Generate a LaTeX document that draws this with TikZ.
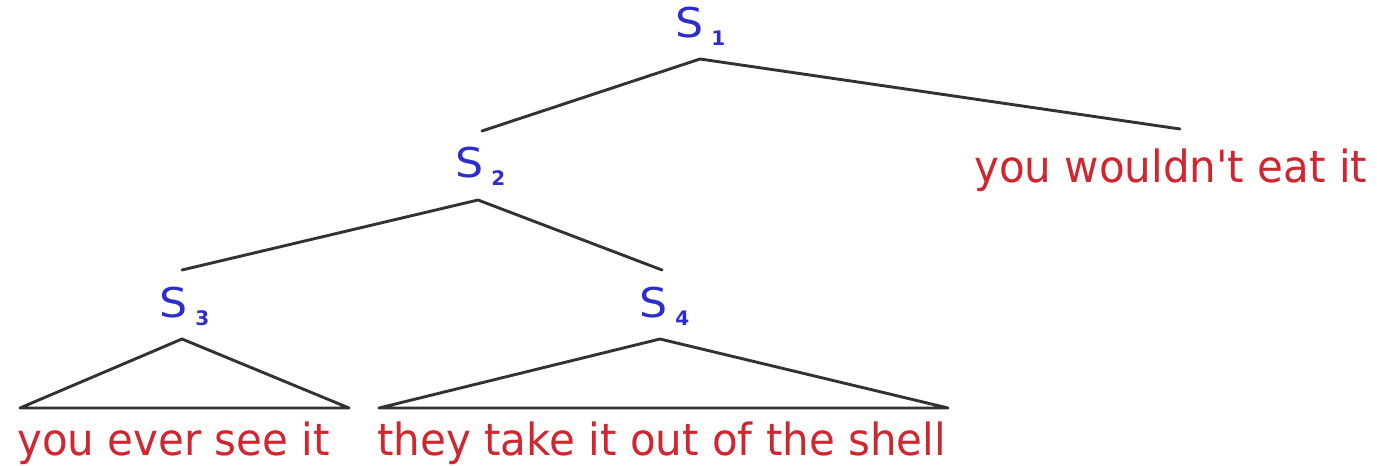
\documentclass[tikz,border=0pt]{standalone}
\usepackage{fontspec}
\setmainfont{DejaVu Sans}
\definecolor{catblue}{RGB}{45,45,205}
\definecolor{leafred}{RGB}{208,38,48}
\definecolor{edgegray}{RGB}{50,50,50}
\newcommand{\catlabel}[1]{\scalebox{1.08}[1]{\fontsize{41}{48}\selectfont S}\kern8pt\raisebox{-8pt}{\fontsize{20}{24}\selectfont\bfseries #1}}
\newcommand{\leaftext}[1]{\scalebox{1.005}[1.06]{#1}}
\begin{document}
\begin{tikzpicture}[x=1pt,y=-1pt,
  cat/.style={anchor=base west,inner sep=0pt,text=catblue},
  leaf/.style={anchor=base west,inner sep=0pt,text=leafred,font=\fontsize{41.8}{50}\selectfont},
  edge/.style={draw=edgegray,line width=2.9pt,line cap=round,line join=round}]
\useasboundingbox (0,0) rectangle (1377,466);
% category labels
\node[cat] (s1) at (675,37) {\catlabel{1}};
\node[cat] (s2) at (455,177) {\catlabel{2}};
\node[cat] (s3) at (159,317) {\catlabel{3}};
\node[cat] (s4) at (639,317) {\catlabel{4}};
% leaves
\node[leaf] (l1) at (974,182) {\leaftext{you wouldn\textquotesingle t eat it}};
\node[leaf] (l3) at (17,455) {\leaftext{you ever see it}};
\node[leaf] (l4) at (377,455) {\leaftext{they take it out of the shell}};
% connector points
\coordinate (a1) at (700,59);
\coordinate (t2) at (482,131);
\coordinate (tl1) at (1180,129);
\coordinate (a2) at (478,200);
\coordinate (t3) at (182,270);
\coordinate (t4) at (662,270);
\coordinate (a3) at (182,339);
\coordinate (b3l) at (20,408);
\coordinate (b3r) at (349,408);
\coordinate (a4) at (660,339);
\coordinate (b4l) at (379,408);
\coordinate (b4r) at (948,408);
% edges
\draw[edge] (t2) -- (a1) -- (tl1);
\draw[edge] (t3) -- (a2) -- (t4);
\draw[edge] (a3) -- (b3l) -- (b3r) -- cycle;
\draw[edge] (a4) -- (b4l) -- (b4r) -- cycle;
\end{tikzpicture}
\end{document}
